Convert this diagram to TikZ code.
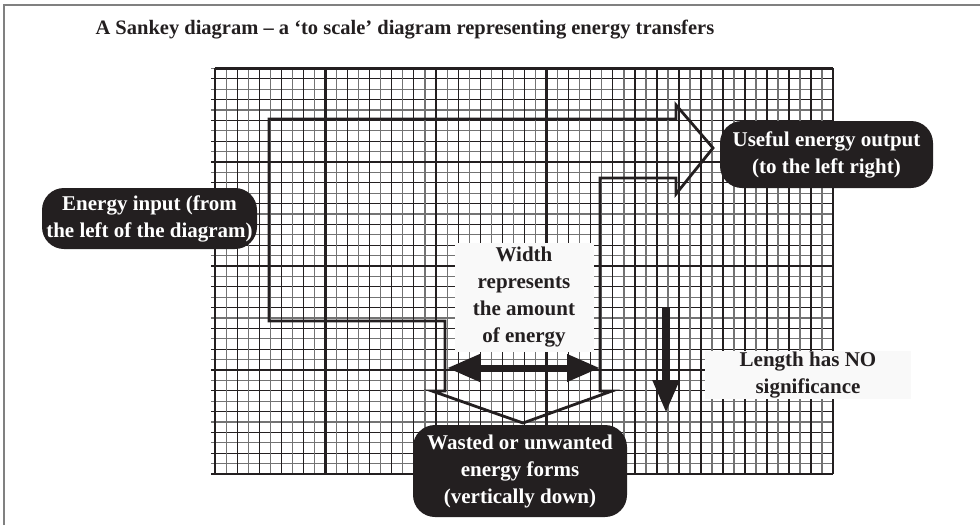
\documentclass[tikz,border=0pt]{standalone}
\usepackage{fontspec}
\setmainfont{Liberation Serif}
\usetikzlibrary{arrows.meta}
\definecolor{ink}{HTML}{231F20}
\definecolor{paper}{HTML}{F9F9F9}
\tikzset{
	darkbox/.style={fill=ink,text=white,rounded corners=22pt,align=center,inner sep=0pt,font=\bfseries\fontsize{21}{27}\selectfont},
	lightbox/.style={fill=paper,text=ink,align=center,inner sep=0pt,font=\bfseries\fontsize{21}{27}\selectfont},
	fine/.style={line width=1.1pt},
	heavy/.style={ink,line width=2.4pt},
}
\begin{document}
\begin{tikzpicture}[x=1pt,y=-1pt,line join=miter]
	\useasboundingbox (0,0) rectangle (980,525);
	\draw[gray,line width=2pt] (4,525) -- (4,5) -- (980,5);
	\foreach \k in {0,2,...,38}
	\draw[ink,fine] (211,{474-10.4*\k}) -- (833,{474-10.4*\k});
	\foreach \k in {1,3,...,39}
	\draw[black!55,fine] (211,{474-10.4*\k}) -- (833,{474-10.4*\k});
	\foreach \k in {0,2,...,40}
	\draw[ink,fine] ({215+11.05*\k},68) -- ({215+11.05*\k},474);
	\foreach \k in {1,3,...,39}
	\draw[black!55,fine] ({215+11.05*\k},68) -- ({215+11.05*\k},474);
	\foreach \k in {0,2,...,18}
	\draw[ink,fine] ({833-11*\k},68) -- ({833-11*\k},474);
	\foreach \k in {1,3,...,19}
	\draw[black!55,fine] ({833-11*\k},68) -- ({833-11*\k},474);
	\foreach \x in {215,325.5,436,546.5,657,723,833}
	\draw[heavy] (\x,68) -- (\x,474);
	\foreach \y in {68.4,162,266,370,474}
	\draw[heavy] (215,\y) -- (833,\y);
	\draw[ink,line width=2.8pt] (269,321) -- (269,119) -- (676,119) -- (676,105) -- (713,148) -- (676,194) -- (676,178)
	-- (600,178) -- (600,391) -- (612,391) -- (523,423) -- (432,391) -- (445,391) -- (445,321) -- cycle;
	\coordinate (wleft) at (447,368);
	\coordinate (wright) at (600,368);
	\coordinate (ltop) at (666,307);
	\coordinate (lbot) at (666,413);
	\draw[ink,line width=7pt,{Triangle[length=33pt,width=26pt]}-{Triangle[length=33pt,width=26pt]}] (wleft) -- (wright);
	\draw[ink,line width=8pt,-{Triangle[length=33pt,width=25pt]}] (ltop) -- (lbot);
	\node[anchor=west,text=ink,font=\bfseries\fontsize{20.5}{24}\selectfont] (title) at (92,30) {A Sankey diagram – a ‘to scale’ diagram representing energy transfers};
	\node[darkbox,minimum width=215pt,minimum height=61pt] (input) at (149.5,218.5) {Energy input (from\\the left of the diagram)};
	\node[darkbox,minimum width=213pt,minimum height=67pt] (output) at (826.5,154.5) {Useful energy output\\(to the left right)};
	\node[darkbox,minimum width=214pt,minimum height=92pt] (waste) at (520,471) {Wasted or unwanted\\energy forms\\(vertically down)};
	\node[lightbox,minimum width=139pt,minimum height=109pt] (width) at (524,297.5) {Width\\represents\\the amount\\of energy};
	\node[lightbox,minimum width=206pt,minimum height=48pt] (length) at (808,375) {Length has NO\\significance};
\end{tikzpicture}
\end{document}
